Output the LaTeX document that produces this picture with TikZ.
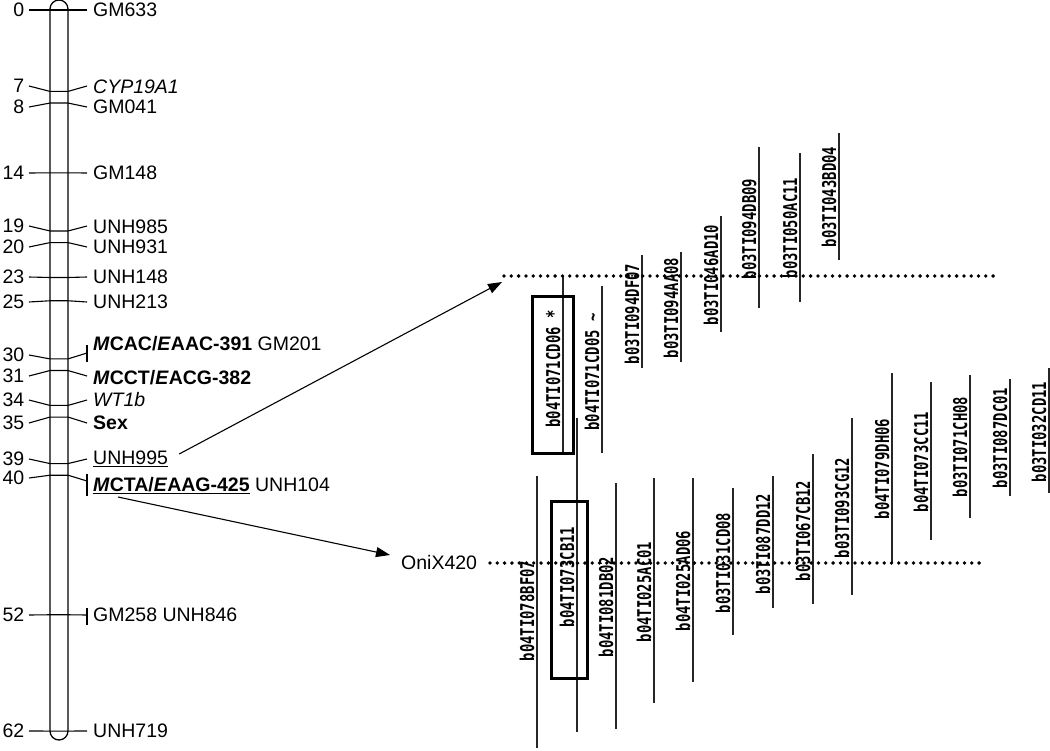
\documentclass[tikz,border=0pt]{standalone}
\usepackage{fontspec}
\setmainfont{Liberation Sans}
\newfontfamily\clonefont{DejaVu Sans Mono}[FakeStretch=0.73]
\usepackage{tikz}
\usetikzlibrary{arrows.meta}

\begin{document}
\begin{tikzpicture}[x=1pt, y=-1pt,
  chrom/.style = {line width=1.3pt, rounded corners=9pt},
  marker/.style = {line width=1.1pt},
  mnum/.style = {anchor=east, inner xsep=4.5pt, inner ysep=0pt,
    font=\fontsize{19.5}{22}\selectfont},
  mname/.style = {anchor=west, inner xsep=6pt, inner ysep=0pt,
    font=\fontsize{19.5}{22}\selectfont},
  clone/.style = {line width=1.3pt, black!85},
  clonelabel/.style = {rotate=90, anchor=base, inner sep=0pt,
    font=\clonefont\bfseries\fontsize{19}{20}\selectfont},
  bacbox/.style = {line width=3pt},
  dotline/.style = {line width=3.8pt, line cap=round,
    dash pattern=on 0pt off 7.3pt},
  link/.style = {line width=1.1pt, -{Triangle[length=14pt, width=10pt]}}]

  \useasboundingbox (0,0) rectangle (1050,750);

  \draw[chrom] (50,0) rectangle (68,740);

  \foreach \cm/\ny/\ey/\ly/\txt [count=\i] in {
    0/10/10/10/GM633, 7/86/86/87/\textit{CYP19A1}, 8/107/107/107/GM041,
    14/173/173/173/GM148, 19/226/226/227/UNH985, 20/247/247/247/UNH931,
    23/277/277/277/UNH148, 25/302/302/302/UNH213,
    30/355/353/344/{\textbf{\textit{M}CAC/\textit{E}AAC-391} GM201},
    31/376/376/378/{\textbf{\textit{M}CCT/\textit{E}ACG-382}},
    34/400/400/400/\textit{WT1b}, 35/423/423/423/\textbf{Sex},
    39/459/459/459/\underline{UNH995},
    40/478/481/486/{\underline{\textbf{\textit{M}CTA/\textit{E}AAG-425}} UNH104},
    52/615/615/615/{GM258 UNH846}, 62/731/731/731/UNH719} {
    \node[mnum] (n\i) at (29,\ny) {\cm};
    \node[mname] (m\i) at (87,\ly) {\txt};
    \draw[marker] (n\i.east) -- (50,{10+11.63*\cm}) -- (68,{10+11.63*\cm})
      -- (m\i.west |- 0,\ey);
  }
  \draw[marker] (87,345) -- (87,362);
  \draw[marker] (87,474) -- (87,496);
  \draw[marker] (87,608) -- (87,625);

  \node[mname] (onix) at (395,563) {OniX420};
  \coordinate (topdots) at (504,276);
  \coordinate (botdots) at (490,563);

  \foreach \lx/\ty/\by/\ly/\name [count=\j] in {
    563/276/455/369/{b04TI071CD06 *}, 602/286/453/372/{b04TI071CD05 \textasciitilde},
    642/255/368/314/b03TI094DF07, 681/252/362/308/b03TI094AA08,
    721/216/332/275/b03TI046AD10, 759/147/308/229/b03TI094DB09,
    800/153/302/228/b03TI050AC11, 839/133/260/197/b03TI043BD04,
    537/476/748/611/b04TI078BF07, 577/418/732/577/b04TI073CB11,
    616/483/729/607/b04TI081DB02, 654/478/703/592/b04TI025AC01,
    693/478/682/581/b04TI025AD06, 733/488/635/563/b03TI031CD08,
    773/476/608/544/b03TI087DD12, 813/454/604/531/b03TI067CB12,
    852/418/595/508/b03TI093CG12, 892/373/563/469/b04TI079DH06,
    931/382/540/462/b04TI073CC11, 970/375/518/447/b03TI071CH08,
    1010/379/496/438/b03TI087DC01, 1049/368/493/432/b03TI032CD11} {
    \draw[clone] (\lx,\ty) -- (\lx,\by);
    \node[clonelabel] (c\j) at (\lx-3,\ly) {\name};
  }

  \draw[bacbox] (532,296) rectangle (573,453);
  \draw[bacbox] (551,501) rectangle (587,678);

  \draw[dotline] (topdots) -- (995,276);
  \draw[dotline] (botdots) -- (982,563);

  \draw[link] ([shift={(5,-5)}]m13.east) -- ([shift={(-2,6)}]topdots);
  \draw[link] ([shift={(31,11)}]m14.west) -- ([shift={(-5,-8)}]onix.west);
\end{tikzpicture}
\end{document}
